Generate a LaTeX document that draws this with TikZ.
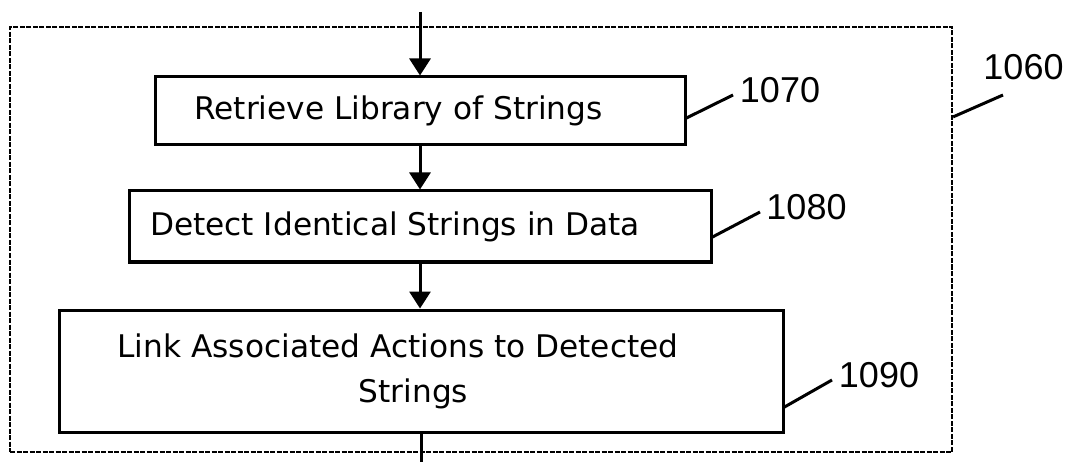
\documentclass[tikz,border=0pt]{standalone}
\usepackage{fontspec}
\setmainfont{DejaVu Sans}
\newfontfamily\numfont{Liberation Sans}
\usetikzlibrary{arrows.meta}
\begin{document}
\begin{tikzpicture}[x=1pt,y=-1pt,
  stepbox/.style={draw, line width=3pt, inner sep=0pt, font=\fontsize{31.2}{45}\selectfont},
  grpbox/.style={draw, line width=2.2pt, dash pattern=on 5pt off 1.5pt, inner sep=0pt},
  arr/.style={line width=3pt, -{Triangle[width=21pt,length=17pt]}},
  lead/.style={line width=3pt},
  num/.style={inner sep=0pt, font=\numfont\fontsize{36}{36}\selectfont}]
\useasboundingbox (0,0) rectangle (1070,462);
\node[grpbox, minimum width=942pt, minimum height=425pt] (grp) at (481,239.5) {};
\node[stepbox, minimum width=530pt, minimum height=68pt] (b1) at (420,111)
  {Retrieve Library of Strings\kern43pt};
\node[stepbox, minimum width=582pt, minimum height=71pt] (b2) at (420,226.5)
  {Detect Identical Strings in Data\kern50pt};
\node[stepbox, minimum width=724pt, minimum height=122pt] (b3) at (421,371)
  {\begin{tabular}{@{}c@{}}Link Associated Actions to Detected\\\kern31pt Strings\end{tabular}\kern46pt};
\coordinate (in) at (420,12);
\coordinate (out) at (421,462);
\draw[arr] (in) -- (in |- b1.north);
\draw[arr] (in |- b1.south) -- (in |- b2.north);
\draw[arr] (in |- b2.south) -- (in |- b3.north);
\draw[lead] (out |- b3.south) -- (out);
% labels
\node[num] (l1060) at (1023.5,67.5) {1060};
\node[num] (l1070) at (780,90.5) {1070};
\node[num] (l1080) at (806.5,207.5) {1080};
\node[num] (l1090) at (879,375) {1090};
\coordinate (e1060) at (1003,95);
\coordinate (e1070) at (733,95);
\coordinate (e1080) at (760,212);
\coordinate (e1090) at (832,380);
\draw[lead] ([yshift=-91pt]grp.north east) -- (e1060);
\draw[lead] ([yshift=-7pt]b1.east) -- (e1070);
\draw[lead] ([yshift=-10.5pt]b2.east) -- (e1080);
\draw[lead] ([yshift=-36pt]b3.east) -- (e1090);
\end{tikzpicture}
\end{document}
